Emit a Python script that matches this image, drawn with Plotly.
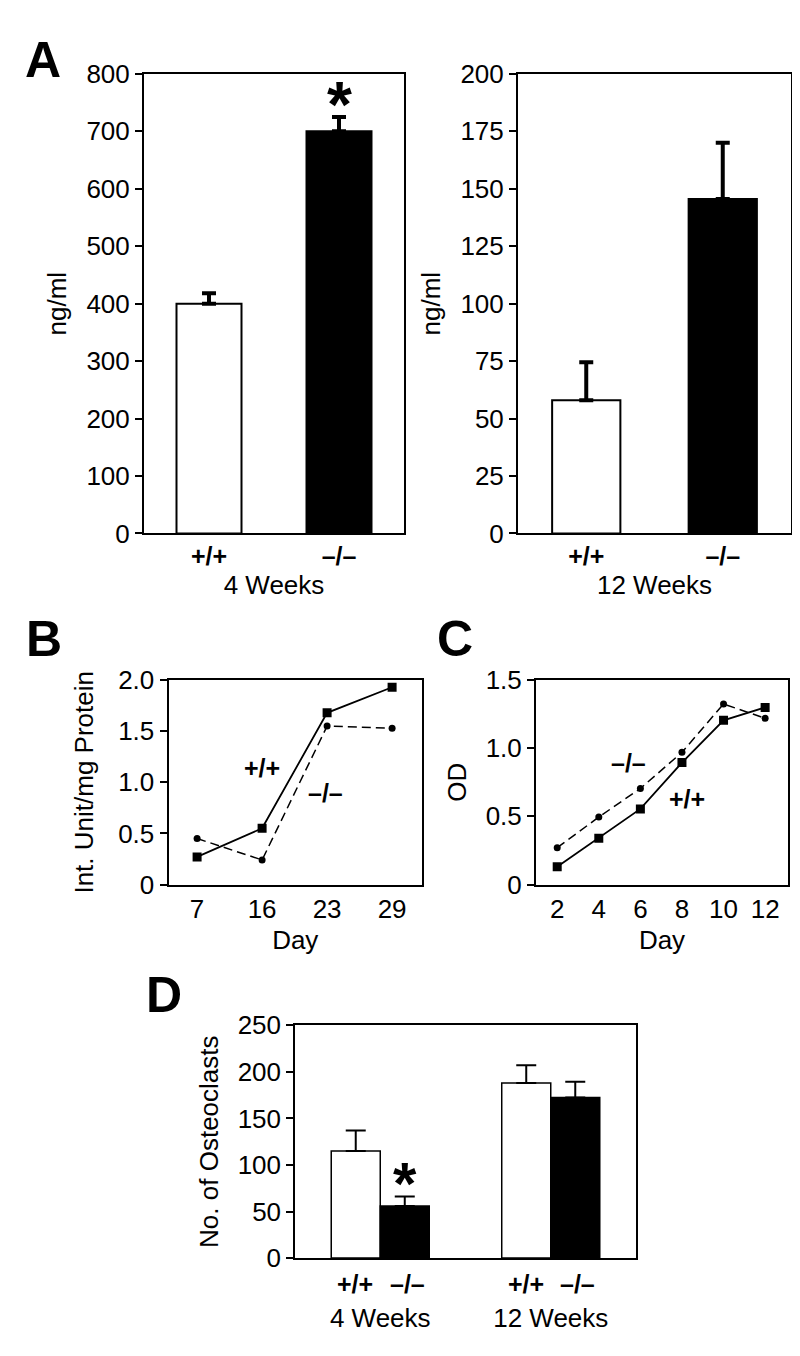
import plotly.graph_objects as go

FONT = "Liberation Sans, Arial, Helvetica, sans-serif"

# ---------------- data ----------------
genotypes = ["+/+", "–/–"]
bar_colors = ["white", "black"]

a4_vals = [400, 700]
a4_err = [18, 25]
a12_vals = [58, 145.5]
a12_err = [16.5, 24.5]

b_days = ["7", "16", "23", "29"]
b_wt = [0.27, 0.55, 1.68, 1.93]
b_ko = [0.45, 0.24, 1.55, 1.53]

c_days = [2, 4, 6, 8, 10, 12]
c_wt = [0.13, 0.34, 0.555, 0.895, 1.205, 1.30]
c_ko = [0.27, 0.495, 0.705, 0.97, 1.325, 1.22]

d_groups = ["4 Weeks", "12 Weeks"]
d_wt = [115, 188]
d_wt_err = [22, 19]
d_ko = [56, 172.5]
d_ko_err = [10, 17]

a4_ticks = [0, 100, 200, 300, 400, 500, 600, 700, 800]
a12_ticks = [0, 25, 50, 75, 100, 125, 150, 175, 200]
b_ticks = [0, 0.5, 1.0, 1.5, 2.0]
b_ticktext = ["0", "0.5", "1.0", "1.5", "2.0"]
c_ticks = [0, 0.5, 1.0, 1.5]
c_ticktext = ["0", "0.5", "1.0", "1.5"]
d_ticks = [0, 50, 100, 150, 200, 250]

# ---------------- figure ----------------
fig = go.Figure()

def err(vals, thick=4, w=7):
    return dict(type="data", array=vals, arrayminus=[0] * len(vals), symmetric=False,
                color="black", thickness=thick, width=w)

fig.add_trace(go.Bar(x=genotypes, y=a4_vals, width=0.5, marker=dict(color=bar_colors, line=dict(color="black", width=2)),
                     error_y=err(a4_err), xaxis="x", yaxis="y", showlegend=False))
fig.add_trace(go.Bar(x=genotypes, y=a12_vals, width=0.5, marker=dict(color=bar_colors, line=dict(color="black", width=2)),
                     error_y=err(a12_err), xaxis="x2", yaxis="y2", showlegend=False))

fig.add_trace(go.Scatter(x=b_days, y=b_wt, mode="lines+markers", line=dict(color="black", width=1.8),
                         marker=dict(symbol="square", size=9, color="black"), xaxis="x3", yaxis="y3", showlegend=False))
fig.add_trace(go.Scatter(x=b_days, y=b_ko, mode="lines+markers", line=dict(color="black", width=1.5, dash="9px,5px"),
                         marker=dict(symbol="circle", size=7, color="black"), xaxis="x3", yaxis="y3", showlegend=False))

fig.add_trace(go.Scatter(x=c_days, y=c_wt, mode="lines+markers", line=dict(color="black", width=1.8),
                         marker=dict(symbol="square", size=9, color="black"), xaxis="x4", yaxis="y4", showlegend=False))
fig.add_trace(go.Scatter(x=c_days, y=c_ko, mode="lines+markers", line=dict(color="black", width=1.5, dash="9px,5px"),
                         marker=dict(symbol="circle", size=7, color="black"), xaxis="x4", yaxis="y4", showlegend=False))

fig.add_trace(go.Bar(x=d_groups, y=d_wt, name="+/+", marker=dict(color="white", line=dict(color="black", width=1.5)),
                     error_y=err(d_wt_err, 2, 10), xaxis="x5", yaxis="y5", offsetgroup="wt", showlegend=False))
fig.add_trace(go.Bar(x=d_groups, y=d_ko, name="–/–", marker=dict(color="black", line=dict(color="black", width=1.5)),
                     error_y=err(d_ko_err, 2, 10), xaxis="x5", yaxis="y5", offsetgroup="ko", showlegend=False))

tick_font = dict(family=FONT, size=26, color="black")
bold_font = dict(family=FONT, size=25, color="black", weight="bold")
title_font = dict(family=FONT, size=26, color="black")

def yax(domain, anchor, rng, tickvals, ticktext=None, title="", standoff=10, lw=2):
    d = dict(domain=domain, anchor=anchor, range=rng, tickvals=tickvals, showline=True, mirror=True,
             linecolor="black", linewidth=lw, ticks="outside", ticklen=7, tickwidth=lw, tickcolor="black",
             showgrid=False, zeroline=False, tickfont=tick_font,
             title=dict(text=title, font=title_font, standoff=standoff), fixedrange=True)
    if ticktext is not None:
        d["ticktext"] = ticktext
    return d

def xax(domain, anchor, **kw):
    d = dict(domain=domain, anchor=anchor, showline=True, mirror=True, linecolor="black", linewidth=2,
             ticks="", showgrid=False, zeroline=False, tickfont=tick_font, fixedrange=True)
    d.update(kw)
    return d

ya_dom = [1 - 522 / 1356, 1 - 52 / 1356]
bc_dom = [1 - 881 / 1356, 1 - 672 / 1356]
d_dom = [1 - 1263 / 1356, 1 - 1025 / 1356]

fig.update_layout(
    width=800, height=1356, margin=dict(l=0, r=0, t=0, b=0),
    paper_bgcolor="white", plot_bgcolor="white", barmode="group", bargap=0.425, bargroupgap=0,
    font=dict(family=FONT, color="black"),
    xaxis=xax([136 / 800, 396 / 800], "y", range=[-0.5, 1.5], tickfont=bold_font,
              title=dict(text="4 Weeks", font=title_font, standoff=6)),
    yaxis=yax(ya_dom, "x", [0, 800], a4_ticks, title="ng/ml", standoff=12),
    xaxis2=xax([510 / 800, 783 / 800], "y2", range=[-0.5, 1.5], tickfont=bold_font,
               title=dict(text="12 Weeks", font=title_font, standoff=6)),
    yaxis2=yax(ya_dom, "x2", [0, 200], a12_ticks, title="ng/ml", standoff=12),
    xaxis3=xax([160.5 / 800, 414 / 800], "y3", type="category", range=[-0.44, 3.46],
               title=dict(text="Day", font=title_font, standoff=8)),
    yaxis3=yax(bc_dom, "x3", [0, 2.0], b_ticks, b_ticktext, title="Int. Unit/mg Protein", standoff=17),
    xaxis4=xax([528 / 800, 780 / 800], "y4", range=[0.98, 13.1], tickvals=c_days,
               title=dict(text="Day", font=title_font, standoff=8)),
    yaxis4=yax(bc_dom, "x4", [0, 1.5], c_ticks, c_ticktext, title="OD", standoff=12),
    xaxis5=xax([287 / 800, 628 / 800], "y5", type="category", range=[-0.5, 1.5], linewidth=1.5,
               ticklabelstandoff=36),
    yaxis5=yax(d_dom, "x5", [0, 250], d_ticks, title="No. of Osteoclasts", standoff=12, lw=1.5),
)

ann = []
# panel letters
for letter, px, py in [("A", 35, 38), ("B", 36, 630), ("C", 447, 630), ("D", 156, 994)]:
    ann.append(dict(text=letter, x=px / 800, y=1 - py / 1356, xref="paper", yref="paper",
                    xanchor="center", yanchor="middle", showarrow=False,
                    font=dict(family=FONT, size=50, color="black", weight="bold")))
# asterisks
ann.append(dict(text="*", x="–/–", y=745, xref="x", yref="y", showarrow=False, yanchor="middle",
                font=dict(family=FONT, size=64, color="black", weight="bold")))
ann.append(dict(text="*", x="4 Weeks", y=80, xref="x5", yref="y5", xshift=24.5, showarrow=False, yanchor="middle",
                font=dict(family=FONT, size=60, color="black", weight="bold")))
# B labels
ann.append(dict(text="+/+", x=1.0, y=1.14, xref="x3", yref="y3", showarrow=False, font=bold_font))
ann.append(dict(text="–/–", x=1.98, y=0.90, xref="x3", yref="y3", showarrow=False, font=bold_font))
# C labels
ann.append(dict(text="–/–", x=5.43, y=0.89, xref="x4", yref="y4", showarrow=False, font=bold_font))
ann.append(dict(text="+/+", x=8.23, y=0.63, xref="x4", yref="y4", showarrow=False, font=bold_font))
# D genotype labels
for g in d_groups:
    ann.append(dict(text="+/+", x=g, y=0, xref="x5", yref="y5", xshift=-25, yshift=-26, showarrow=False, font=bold_font))
    ann.append(dict(text="–/–", x=g, y=0, xref="x5", yref="y5", xshift=27, yshift=-26, showarrow=False, font=bold_font))
fig.update_layout(annotations=ann)

fig.write_html("out.html")
